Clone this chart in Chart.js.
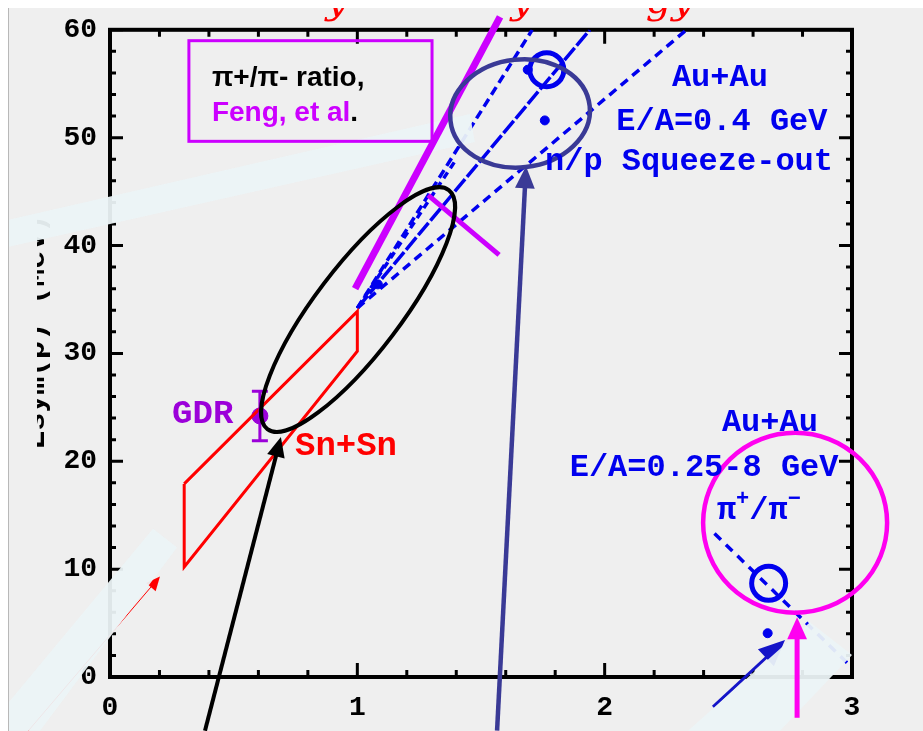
<!DOCTYPE html>
<html>
<head>
<meta charset="utf-8">
<title>Symmetry energy</title>
<script src="https://cdn.jsdelivr.net/npm/chart.js"></script>
<style>body{margin:0;background:#efefef}</style>
</head>
<body>
<canvas id="c" width="923" height="731"></canvas>
<script>
// Sn+Sn region (closed outline)
var snX = [0.3, 1.0, 1.0, 0.3, 0.3];
var snY = [17.9, 33.9, 30.2, 10.2, 17.9];

// Au+Au n/p squeeze-out fan
var fanAX = [1.0, 1.707], fanAY = [34.2, 60];
var fanBX = [1.0, 1.40],  fanBY = [34.2, 48.0];
var fanCX = [1.0, 1.94],  fanCY = [34.2, 60];
var fanDX = [1.0, 2.331], fanDY = [34.2, 60];

// Au+Au pi+/pi- line
var pionX = [2.444, 2.99], pionY = [13.3, 1.1];

// symbols
var dotX = [1.083, 1.689, 1.758, 2.659];
var dotY = [36.4, 56.3, 51.6, 4.06];
var loopX = [1.766, 2.663];
var loopY = [56.3, 8.68];

// GDR point with error bar
var gdrX = [0.606], gdrY = [24.2], gdrLo = [21.9], gdrHi = [26.5];

function pts(xs, ys) { return xs.map(function (x, i) { return {x: x, y: ys[i]}; }); }

var BLUE = '#0000ee', MAG = '#ff00f0', VIO = '#cc00ff', NAVY = '#3a3a96', PURP = '#9b00d9';

function arrow(c, x0, y0, x1, y1, col, w, head) {
  var a = Math.atan2(y1 - y0, x1 - x0);
  c.save();
  c.strokeStyle = col; c.fillStyle = col; c.lineWidth = w;
  c.beginPath(); c.moveTo(x0, y0);
  c.lineTo(x1 - Math.cos(a) * head * 0.8, y1 - Math.sin(a) * head * 0.8); c.stroke();
  c.beginPath(); c.moveTo(x1, y1);
  c.lineTo(x1 - head * Math.cos(a) + head * 0.45 * Math.sin(a), y1 - head * Math.sin(a) - head * 0.45 * Math.cos(a));
  c.lineTo(x1 - head * Math.cos(a) - head * 0.45 * Math.sin(a), y1 - head * Math.sin(a) + head * 0.45 * Math.cos(a));
  c.closePath(); c.fill();
  c.restore();
}

function band(c, X, Y, xs, ys) {
  c.save();
  c.fillStyle = 'rgba(236,244,246,0.94)';
  c.beginPath();
  xs.forEach(function (x, i) { if (i) c.lineTo(X(x), Y(ys[i])); else c.moveTo(X(x), Y(ys[i])); });
  c.closePath(); c.fill();
  c.restore();
}

var overlay = {
  id: 'overlay',
  beforeDraw: function (chart) {
    var c = chart.ctx;
    c.save(); c.fillStyle = '#efefef'; c.fillRect(0, 0, chart.width, chart.height); c.restore();
  },
  beforeDatasetsDraw: function (chart) {
    var c = chart.ctx, a = chart.chartArea, xs = chart.scales.x, ys = chart.scales.y;
    c.save();
    c.strokeStyle = '#000'; c.lineWidth = 3;
    for (var i = 0; i <= 15; i++) {
      var px = xs.getPixelForValue(i * 0.2), L = (i % 5 === 0) ? 14 : 7;
      c.beginPath();
      c.moveTo(px, a.bottom); c.lineTo(px, a.bottom - L);
      c.moveTo(px, a.top); c.lineTo(px, a.top + L);
      c.stroke();
    }
    for (var j = 0; j <= 30; j++) {
      var py = ys.getPixelForValue(j * 2), M = (j % 5 === 0) ? 13 : 6;
      c.beginPath();
      c.moveTo(a.left, py); c.lineTo(a.left + M, py);
      c.moveTo(a.right, py); c.lineTo(a.right - M, py);
      c.stroke();
    }
    c.lineWidth = 4;
    c.strokeRect(a.left, a.top, a.right - a.left, a.bottom - a.top);
    c.restore();
  },
  afterDatasetsDraw: function (chart) {
    var c = chart.ctx, a = chart.chartArea;
    var X = function (v) { return chart.scales.x.getPixelForValue(v); };
    var Y = function (v) { return chart.scales.y.getPixelForValue(v); };
    c.save();

    // GDR error bar
    c.strokeStyle = PURP; c.lineWidth = 3;
    gdrX.forEach(function (x, i) {
      var px = X(x);
      c.beginPath();
      c.moveTo(px, Y(gdrLo[i])); c.lineTo(px, Y(gdrHi[i]));
      c.moveTo(px - 8, Y(gdrLo[i])); c.lineTo(px + 8, Y(gdrLo[i]));
      c.moveTo(px - 8, Y(gdrHi[i])); c.lineTo(px + 8, Y(gdrHi[i]));
      c.stroke();
    });

    // y-axis title, cut off at the left
    c.save();
    c.beginPath(); c.rect(37, 0, 40, chart.height); c.clip();
    c.translate(a.left - 66, Y(32)); c.rotate(-Math.PI / 2);
    c.fillStyle = '#000'; c.font = 'bold 30px "Liberation Mono"'; c.textAlign = 'center';
    c.fillText('Esym(\u03c1) (MeV)', 0, 0);
    c.restore();

    // hidden red arrow under the band
    arrow(c, X(-0.33), Y(-4.98), X(0.202), Y(9.32), '#ff0000', 1, 14);
    // dark blue arrow, bottom right
    arrow(c, X(2.438), Y(-2.77), X(2.729), Y(3.42), '#1414c8', 3, 26);

    // pale bands
    band(c, X, Y, [-0.445, 1.455, 1.475, -0.445], [42.2, 52.2, 49.6, 39.7]);
    band(c, X, Y, [0.174, 0.271, -0.283, -0.445, -0.445], [13.75, 12.0, -4.98, -4.98, -3.32]);
    band(c, X, Y, [2.337, 2.83, 3.0, 2.709], [-4.98, 5.08, 2.03, -4.98]);

    // violet line and tick
    c.strokeStyle = VIO; c.lineCap = 'butt';
    c.lineWidth = 7;
    c.beginPath(); c.moveTo(X(0.991), Y(36.0)); c.lineTo(X(1.577), Y(61.2)); c.stroke();
    c.lineWidth = 5;
    c.beginPath(); c.moveTo(X(1.286), Y(44.68)); c.lineTo(X(1.573), Y(39.14)); c.stroke();

    // note box
    c.lineWidth = 3;
    c.strokeRect(X(0.319), Y(58.99), X(1.302) - X(0.319), Y(49.66) - Y(58.99));
    c.font = 'bold 28px "Liberation Sans"'; c.textAlign = 'left'; c.fillStyle = '#000';
    c.fillText('\u03c0+/\u03c0- ratio,', X(0.412), Y(54.83));
    c.fillStyle = VIO;
    var feng = 'Feng, et al';
    c.fillText(feng, X(0.412), Y(51.51));
    c.fillStyle = '#000';
    c.fillText('.', X(0.412) + c.measureText(feng).width, Y(51.51));

    // ellipses
    c.lineWidth = 4; c.strokeStyle = '#000';
    c.beginPath(); c.ellipse(X(1.003), Y(34.06), 150, 43, -52.8 * Math.PI / 180, 0, 2 * Math.PI); c.stroke();
    c.lineWidth = 4.5; c.strokeStyle = NAVY;
    c.beginPath(); c.ellipse(X(1.658), Y(52.25), 70, 54, -6 * Math.PI / 180, 0, 2 * Math.PI); c.stroke();
    c.strokeStyle = MAG;
    c.beginPath(); c.ellipse(X(2.770), Y(14.3), 92, 90, 0, 0, 2 * Math.PI); c.stroke();

    // pointer arrows
    arrow(c, X(0.384), Y(-4.98), X(0.691), Y(22.25), '#000', 4, 20);
    arrow(c, X(1.565), Y(-4.98), X(1.682), Y(47.35), NAVY, 4.5, 22);
    arrow(c, X(2.778), Y(-3.78), X(2.778), Y(5.54), MAG, 5, 22);

    // labels
    c.font = 'bold 32px "Liberation Mono"'; c.fillStyle = BLUE; c.textAlign = 'center';
    c.fillText('Au+Au', X(2.466), Y(54.83));
    c.fillText('E/A=0.4 GeV', X(2.474), Y(50.68));
    c.fillText('n/p Squeeze-out', X(2.341), Y(46.99));
    c.fillText('Au+Au', X(2.668), Y(22.80));
    c.fillText('E/A=0.25-8 GeV', X(2.402), Y(18.65));
    // pi+/pi- with superscripts
    var px0 = X(2.660) - 51, by = Y(14.68);
    c.textAlign = 'left';
    c.fillText('\u03c0', px0, by); px0 += c.measureText('\u03c0').width;
    c.font = 'bold 22px "Liberation Mono"'; c.fillText('+', px0, by - 14); px0 += c.measureText('+').width;
    c.font = 'bold 32px "Liberation Mono"'; c.fillText('/\u03c0', px0, by); px0 += c.measureText('/\u03c0').width;
    c.font = 'bold 22px "Liberation Mono"'; c.fillText('\u2212', px0, by - 14);

    c.font = 'bold 34px "Liberation Mono"';
    c.fillStyle = PURP; c.fillText('GDR', X(0.251), Y(23.54));
    c.fillStyle = '#ff0000'; c.fillText('Sn+Sn', X(0.748), Y(20.59));

    // title fragments at the top (cut off)
    c.font = 'italic 40px "DejaVu Serif"'; c.fillStyle = '#ff0000'; c.textAlign = 'center';
    c.fillText('y', X(0.918), Y(61.57));
    c.fillText('y', X(1.666), Y(61.57));
    c.fillText('gy', X(2.264), Y(61.57));
    c.restore();
  },
  afterDraw: function (chart) {
    var c = chart.ctx;
    c.save();
    c.fillStyle = '#ffffff';
    c.fillRect(0, 0, chart.width, 8);
    c.fillRect(0, 0, 8, chart.height);
    c.fillStyle = '#b8b8b8';
    c.fillRect(8, 8, 1, chart.height - 8);
    c.restore();
  }
};

var lineDs = function (xs, ys, col, w, dash) {
  return {data: pts(xs, ys), showLine: true, borderColor: col, borderWidth: w, borderDash: dash,
          pointRadius: 0, fill: false, tension: 0};
};

var tickFont = {family: '"Liberation Mono"', weight: 'bold', size: 28};

new Chart(document.getElementById('c'), {
  type: 'scatter',
  data: {
    datasets: [
      lineDs(snX, snY, '#ff0000', 3, []),
      lineDs(fanAX, fanAY, BLUE, 3.5, [9, 5]),
      lineDs(fanBX, fanBY, BLUE, 3.5, [7, 5]),
      lineDs(fanCX, fanCY, BLUE, 3.5, [16, 3]),
      lineDs(fanDX, fanDY, BLUE, 3.5, [9, 6]),
      lineDs(pionX, pionY, BLUE, 3.5, [9, 7]),
      {data: pts(dotX, dotY), pointRadius: 4.5, pointBackgroundColor: BLUE, pointBorderColor: BLUE},
      {data: pts(loopX, loopY), pointRadius: 17, pointBorderWidth: 5, pointBorderColor: BLUE,
       pointBackgroundColor: 'rgba(0,0,0,0)'},
      {data: pts(gdrX, gdrY), pointRadius: 8, pointBackgroundColor: PURP, pointBorderColor: PURP}
    ]
  },
  options: {
    responsive: false,
    animation: false,
    layout: {padding: {top: 27, right: 71, left: 0, bottom: 0}},
    plugins: {legend: {display: false}, tooltip: {enabled: false}},
    scales: {
      x: {
        type: 'linear', min: 0, max: 3,
        ticks: {stepSize: 1, font: tickFont, color: '#000', padding: 14, maxRotation: 0},
        grid: {display: false, drawTicks: false},
        border: {display: false},
        afterFit: function (s) { s.height = 54; }
      },
      y: {
        type: 'linear', min: 0, max: 60,
        ticks: {stepSize: 10, font: tickFont, color: '#000', padding: 13},
        grid: {display: false, drawTicks: false},
        border: {display: false},
        afterFit: function (s) { s.width = 110; }
      }
    }
  },
  plugins: [overlay]
});
</script>
</body>
</html>
